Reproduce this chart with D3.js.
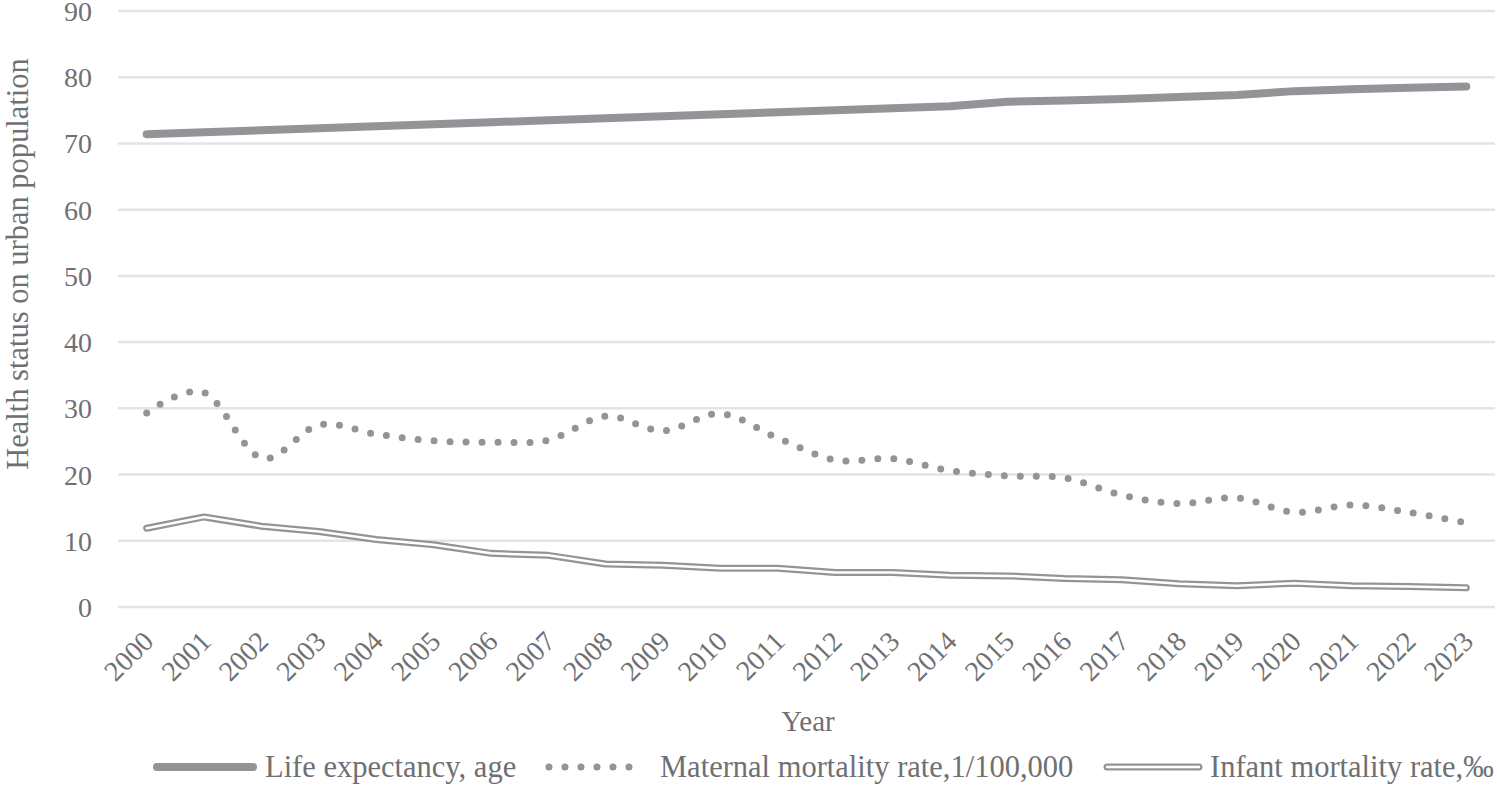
<!DOCTYPE html>
<html>
<head>
<meta charset="utf-8">
<script src="https://cdn.jsdelivr.net/npm/d3@7"></script>
<style>
  body { margin: 0; background: #fff; }
  svg text { font-family: "Liberation Serif", "Times New Roman", serif; fill: #6f7073; }
</style>
</head>
<body>
<svg width="1497" height="786"></svg>
<script>
// data
const years = ["2000","2001","2002","2003","2004","2005","2006","2007","2008","2009","2010","2011",
               "2012","2013","2014","2015","2016","2017","2018","2019","2020","2021","2022","2023"];
const lifeExpectancy = [71.4, 71.7, 72.0, 72.3, 72.6, 72.9, 73.2, 73.5, 73.8, 74.1, 74.4, 74.7,
                        75.0, 75.3, 75.6, 76.3, 76.5, 76.7, 77.0, 77.3, 77.9, 78.2, 78.4, 78.6];
const maternalMortality = [29.3, 32.4, 22.5, 27.5, 26.1, 25.1, 24.9, 25.2, 28.8, 26.6, 29.2, 25.5,
                           22.2, 22.4, 20.6, 19.8, 19.5, 16.9, 15.6, 16.5, 14.3, 15.4, 14.3, 12.7];
const infantMortality = [11.9, 13.6, 12.2, 11.4, 10.2, 9.4, 8.1, 7.8, 6.5, 6.3, 5.85, 5.85,
                         5.2, 5.2, 4.8, 4.7, 4.3, 4.1, 3.5, 3.2, 3.6, 3.2, 3.1, 2.9];
const yTicks = [0, 10, 20, 30, 40, 50, 60, 70, 80, 90];
const legendNames = ["Life expectancy, age", "Maternal mortality rate,1/100,000", "Infant mortality rate,\u2030"];

const grey = "#939498";
const textGrey = "#6f7073";
const tickSize = 28;
const legendSize = 30.5;

const svg = d3.select("svg");

const x = d3.scalePoint().domain(years).range([118, 1495]).padding(0.5);
const y = d3.scaleLinear().domain([0, 90]).range([607, 11]);

// grid
svg.append("g")
  .selectAll("line")
  .data(yTicks)
  .enter()
  .append("line")
  .attr("x1", 118).attr("x2", 1495)
  .attr("y1", d => y(d)).attr("y2", d => y(d))
  .attr("stroke", "#e4e4e5")
  .attr("stroke-width", 2.5);

// y axis labels
const yAxis = svg.append("g")
  .attr("transform", "translate(96,0)")
  .style("color", textGrey)
  .call(d3.axisLeft(y).tickValues(yTicks).tickSize(0).tickPadding(4));
yAxis.select(".domain").remove();
yAxis.selectAll("text")
  .attr("font-size", tickSize)
  .attr("dy", "0.34em");

// x axis labels
const xAxis = svg.append("g")
  .attr("transform", "translate(0,607)")
  .style("color", textGrey)
  .call(d3.axisBottom(x).tickSize(0).tickPadding(0));
xAxis.select(".domain").remove();
xAxis.selectAll("text")
  .attr("font-size", tickSize)
  .attr("text-anchor", "end")
  .attr("dy", 0)
  .attr("transform", "translate(8,36) rotate(-45)");

// titles
svg.append("text")
  .attr("x", 808).attr("y", 731)
  .attr("text-anchor", "middle")
  .attr("font-size", 29)
  .text("Year");

svg.append("text")
  .attr("transform", "translate(28,264) rotate(-90)")
  .attr("text-anchor", "middle")
  .attr("font-size", 30.5)
  .text("Health status on urban population");

// lines
const straight = d3.line()
  .x((d, i) => x(years[i]))
  .y(d => y(d));

const smooth = d3.line()
  .x((d, i) => x(years[i]))
  .y(d => y(d))
  .curve(d3.curveCardinal.tension(0));

const plot = svg.append("g");

plot.append("path")
  .attr("d", straight(infantMortality))
  .attr("fill", "none")
  .attr("stroke", grey)
  .attr("stroke-width", 7)
  .attr("stroke-linejoin", "round")
  .attr("stroke-linecap", "round");
plot.append("path")
  .attr("d", straight(infantMortality))
  .attr("fill", "none")
  .attr("stroke", "#fff")
  .attr("stroke-width", 2.5)
  .attr("stroke-linejoin", "round")
  .attr("stroke-linecap", "round");

plot.append("path")
  .attr("d", smooth(maternalMortality))
  .attr("fill", "none")
  .attr("stroke", grey)
  .attr("stroke-width", 7)
  .attr("stroke-dasharray", "0 16")
  .attr("stroke-linecap", "round");

plot.append("path")
  .attr("d", straight(lifeExpectancy))
  .attr("fill", "none")
  .attr("stroke", grey)
  .attr("stroke-width", 8)
  .attr("stroke-linejoin", "round")
  .attr("stroke-linecap", "round");

// legend
const legY = 767;
const leg = svg.append("g");

leg.append("line")
  .attr("x1", 157).attr("x2", 253).attr("y1", legY).attr("y2", legY)
  .attr("stroke", grey).attr("stroke-width", 8).attr("stroke-linecap", "round");
leg.append("text")
  .attr("x", 265).attr("y", legY).attr("dy", "0.33em")
  .attr("font-size", legendSize)
  .text(legendNames[0]);

leg.append("line")
  .attr("x1", 549).attr("x2", 645).attr("y1", legY).attr("y2", legY)
  .attr("stroke", grey).attr("stroke-width", 7)
  .attr("stroke-dasharray", "0 16").attr("stroke-linecap", "round");
leg.append("text")
  .attr("x", 660).attr("y", legY).attr("dy", "0.33em")
  .attr("font-size", legendSize)
  .text(legendNames[1]);

leg.append("line")
  .attr("x1", 1107).attr("x2", 1199).attr("y1", legY).attr("y2", legY)
  .attr("stroke", grey).attr("stroke-width", 7).attr("stroke-linecap", "round");
leg.append("line")
  .attr("x1", 1107).attr("x2", 1199).attr("y1", legY).attr("y2", legY)
  .attr("stroke", "#fff").attr("stroke-width", 2.5).attr("stroke-linecap", "round");
leg.append("text")
  .attr("x", 1210).attr("y", legY).attr("dy", "0.33em")
  .attr("font-size", legendSize)
  .text(legendNames[2]);
</script>
</body>
</html>
